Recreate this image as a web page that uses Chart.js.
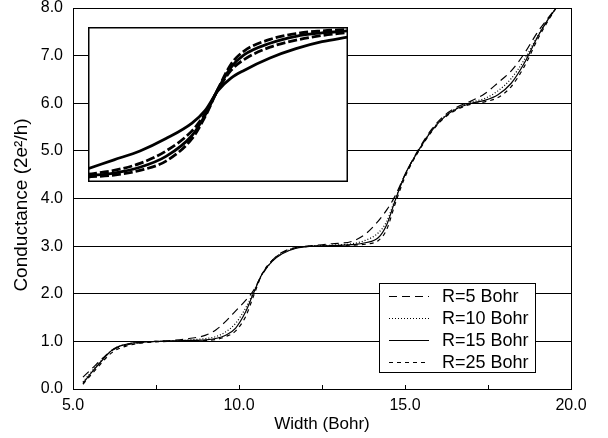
<!DOCTYPE html>
<html>
<head>
<meta charset="utf-8">
<script src="https://cdn.jsdelivr.net/npm/chart.js@4.4.0/dist/chart.umd.min.js"></script>
<style>
  body { margin: 0; background: #fff; }
  #wrap { position: relative; width: 608px; height: 438px; }
  #inset { position: absolute; left: 88px; top: 27px; }
</style>
</head>
<body>
<div id="wrap">
  <canvas id="mainChart" width="608" height="438"></canvas>
  <canvas id="inset" width="260" height="155"></canvas>
</div>
<script>
// main curves: conductance vs width
const widths = [5.3, 5.6, 5.9, 6.2, 6.6, 7.0, 7.5, 8.0, 8.5, 9.0, 9.3, 9.6, 9.9, 10.2, 10.4, 10.7, 11.0, 11.3, 11.7, 12.2,
  12.8, 13.4, 13.8, 14.2, 14.45, 14.7, 15.0, 15.4, 15.8, 16.2, 16.6, 17.0, 17.4, 17.8, 18.2, 18.6, 19.0, 19.3, 19.6];
const r5 = [0.25, 0.45, 0.65, 0.82, 0.92, 0.97, 1.0, 1.02, 1.06, 1.13, 1.24, 1.42, 1.64, 1.86, 2.03, 2.4, 2.7, 2.87, 2.97, 3.01,
  3.05, 3.1, 3.25, 3.53, 3.76, 4.05, 4.5, 5.02, 5.45, 5.75, 5.93, 6.05, 6.2, 6.43, 6.68, 7.05, 7.5, 7.78, 8.05];
const r10 = [0.15, 0.4, 0.63, 0.83, 0.94, 0.98, 1.0, 1.01, 1.03, 1.06, 1.1, 1.2, 1.38, 1.7, 1.98, 2.42, 2.68, 2.85, 2.96, 3.0,
  3.02, 3.05, 3.12, 3.28, 3.52, 3.98, 4.5, 5.0, 5.43, 5.73, 5.91, 6.02, 6.1, 6.26, 6.52, 6.92, 7.42, 7.75, 8.05];
const r15 = [0.12, 0.38, 0.62, 0.83, 0.94, 0.98, 1.0, 1.01, 1.02, 1.03, 1.06, 1.13, 1.28, 1.62, 1.95, 2.42, 2.68, 2.84, 2.95, 3.0,
  3.01, 3.03, 3.07, 3.18, 3.45, 3.95, 4.5, 5.0, 5.42, 5.72, 5.9, 6.0, 6.06, 6.18, 6.42, 6.85, 7.4, 7.75, 8.05];
const r25 = [0.1, 0.34, 0.58, 0.78, 0.9, 0.96, 0.99, 1.0, 1.01, 1.02, 1.04, 1.1, 1.22, 1.52, 1.88, 2.42, 2.7, 2.86, 2.96, 3.0,
  3.01, 3.02, 3.04, 3.12, 3.35, 3.88, 4.45, 4.98, 5.4, 5.7, 5.88, 5.98, 6.03, 6.12, 6.35, 6.78, 7.35, 7.72, 8.05];
const seriesNames = ['R=5 Bohr', 'R=10 Bohr', 'R=15 Bohr', 'R=25 Bohr'];
const xMinorTicks = [7.5, 10, 12.5, 15, 17.5];
const yTitle = 'Conductance (2e²/h)';

// inset curves (normalised box coordinates)
const insetX = [0, 0.1, 0.2, 0.3, 0.4, 0.45, 0.5, 0.55, 0.6, 0.7, 0.8, 0.9, 1.0];
const insetA = [0.086, 0.143, 0.2, 0.28, 0.38, 0.46, 0.59, 0.67, 0.72, 0.8, 0.86, 0.905, 0.935];
const insetB = [0.05, 0.075, 0.12, 0.2, 0.33, 0.44, 0.595, 0.72, 0.79, 0.87, 0.915, 0.945, 0.965];
const insetC = [0.04, 0.058, 0.095, 0.165, 0.3, 0.43, 0.6, 0.74, 0.82, 0.895, 0.94, 0.962, 0.975];
const insetD = [0.032, 0.045, 0.075, 0.135, 0.28, 0.42, 0.6, 0.76, 0.845, 0.92, 0.958, 0.975, 0.985];

Chart.defaults.font.family = "'Liberation Sans', Arial, sans-serif";
Chart.defaults.font.size = 16;
Chart.defaults.color = '#000';

const pts = (xs, ys) => xs.map((x, i) => ({ x: x, y: ys[i] }));
const dashes = [[8, 5], [1, 2], [], [4, 4]];

const frame = {
  id: 'frame',
  afterDraw(c) {
    const ctx = c.ctx, a = c.chartArea, xs = c.scales.x;
    ctx.save();
    ctx.strokeStyle = '#000';
    ctx.lineWidth = 1;
    ctx.strokeRect(a.left + 0.5, a.top + 0.5, a.right - a.left, a.bottom - a.top);
    // small inward ticks on the bottom axis
    ctx.beginPath();
    xMinorTicks.forEach(v => {
      const px = Math.round(xs.getPixelForValue(v)) + 0.5;
      ctx.moveTo(px, a.bottom);
      ctx.lineTo(px, a.bottom - 4);
    });
    ctx.stroke();
    // y axis title
    ctx.save();
    ctx.translate(22, 205);
    ctx.rotate(-Math.PI / 2);
    ctx.font = "19px 'Liberation Sans', Arial, sans-serif";
    ctx.fillStyle = '#000';
    ctx.textAlign = 'center';
    ctx.textBaseline = 'middle';
    ctx.fillText(yTitle, 0, 0);
    ctx.restore();
    // legend box
    const lx = 379, ly = 283, lw = 156, lh = 89;
    ctx.fillStyle = '#fff';
    ctx.fillRect(lx, ly, lw, lh);
    ctx.strokeRect(lx + 0.5, ly + 0.5, lw, lh);
    ctx.font = "18px 'Liberation Sans', Arial, sans-serif";
    ctx.fillStyle = '#000';
    ctx.textBaseline = 'middle';
    c.data.datasets.forEach((ds, i) => {
      const y = ly + 13 + i * 22;
      ctx.beginPath();
      ctx.setLineDash(ds.borderDash);
      ctx.moveTo(389, y + 0.5);
      ctx.lineTo(429, y + 0.5);
      ctx.stroke();
      ctx.setLineDash([]);
      ctx.fillText(ds.label, 442, y + 1);
    });
    ctx.restore();
  }
};

new Chart(document.getElementById('mainChart'), {
  type: 'line',
  data: {
    datasets: [r5, r10, r15, r25].map((ys, i) => ({
      label: seriesNames[i],
      data: pts(widths, ys),
      borderColor: '#000',
      borderWidth: 1.2,
      borderDash: dashes[i],
      pointRadius: 0,
      cubicInterpolationMode: 'monotone',
      fill: false
    }))
  },
  options: {
    responsive: false,
    animation: false,
    layout: { padding: { top: 8, right: 37, left: 0, bottom: 0 } },
    plugins: { legend: { display: false }, tooltip: { enabled: false } },
    scales: {
      x: {
        type: 'linear', min: 5, max: 20,
        ticks: { stepSize: 5, padding: 7, callback: v => v.toFixed(1) },
        grid: { drawOnChartArea: false, drawTicks: false },
        border: { display: false },
        title: { display: true, text: 'Width (Bohr)', font: { size: 17 }, padding: { top: 0, bottom: 3 } },
        afterFit: s => { s.height = 49; s.paddingLeft = 0; s.paddingRight = 0; }
      },
      y: {
        min: 0, max: 8,
        ticks: { stepSize: 1, padding: 10, callback: v => v.toFixed(1) },
        grid: { color: '#000', lineWidth: 1, drawTicks: false },
        border: { display: false },
        afterFit: s => { s.width = 73; s.paddingTop = 0; s.paddingBottom = 0; }
      }
    }
  },
  plugins: [frame]
});

const insetFrame = {
  id: 'insetFrame',
  beforeDraw(c) {
    c.ctx.fillStyle = '#fff';
    c.ctx.fillRect(0, 0, c.width, c.height);
  },
  afterDraw(c) {
    const ctx = c.ctx;
    ctx.save();
    ctx.strokeStyle = '#000';
    ctx.lineWidth = 1.5;
    ctx.strokeRect(0.75, 0.75, c.width - 1.5, c.height - 1.5);
    ctx.restore();
  }
};

new Chart(document.getElementById('inset'), {
  type: 'line',
  data: {
    datasets: [insetA, insetB, insetC, insetD].map((ys, i) => ({
      data: pts(insetX, ys),
      borderColor: '#000',
      borderWidth: 2.8,
      borderDash: i % 2 ? [9, 3] : [],
      pointRadius: 0,
      cubicInterpolationMode: 'monotone',
      fill: false
    }))
  },
  options: {
    responsive: false,
    animation: false,
    layout: { padding: 0 },
    plugins: { legend: { display: false }, tooltip: { enabled: false } },
    scales: {
      x: { type: 'linear', min: 0, max: 1, display: false },
      y: { min: 0, max: 1, display: false }
    }
  },
  plugins: [insetFrame]
});
</script>
</body>
</html>
